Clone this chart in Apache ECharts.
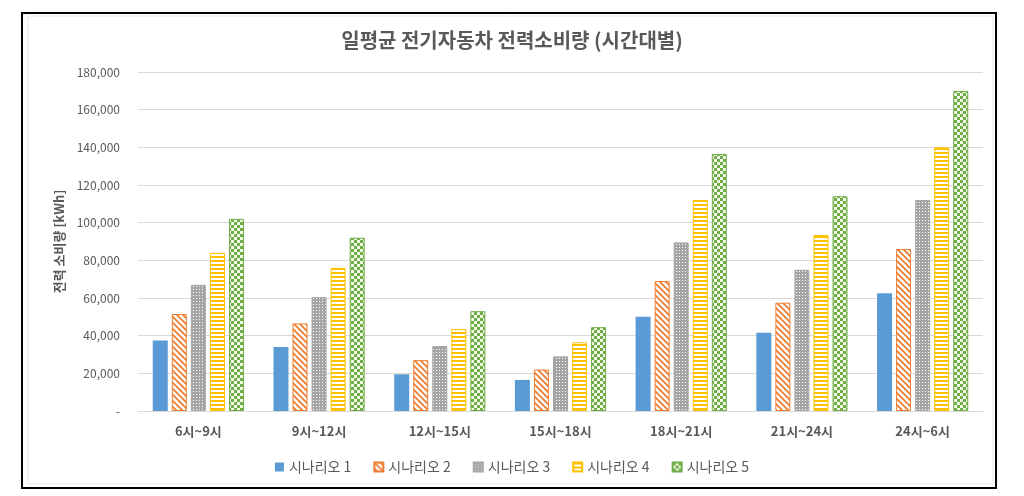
<!DOCTYPE html>
<html style="height: 100%">
<head>
<meta charset="utf-8">
<script src="https://cdn.jsdelivr.net/npm/echarts@6/dist/echarts.min.js"></script>
</head>
<body style="height: 100%; margin: 0; background: #fff">
<div id="container" style="width: 1024px; height: 496px"></div>
<script type="text/javascript">
var categories = ['6시~9시', '9시~12시', '12시~15시', '15시~18시', '18시~21시', '21시~24시', '24시~6시'];
var seriesNames = ['시나리오 1', '시나리오 2', '시나리오 3', '시나리오 4', '시나리오 5'];
var scenario1 = [37500, 34000, 19500, 16500, 50000, 41500, 62500];
var scenario2 = [51500, 46500, 27000, 22000, 69000, 57500, 86000];
var scenario3 = [67000, 60500, 34500, 29000, 89500, 75000, 112000];
var scenario4 = [84000, 76000, 43500, 36500, 112000, 93500, 140000];
var scenario5 = [102000, 92000, 53000, 44500, 136500, 114000, 170000];
var yTicks = [0, 20000, 40000, 60000, 80000, 100000, 120000, 140000, 160000, 180000];

var font = '"Noto Sans CJK KR", "Noto Sans", sans-serif';

function makePattern(w, h, draw) {
	var c = document.createElement('canvas');
	c.width = w;
	c.height = h;
	var ctx = c.getContext('2d');
	draw(ctx);
	return { image: c, repeat: 'repeat' };
}

// orange diagonal stripes
var pat2 = makePattern(6, 6, function(ctx) {
	ctx.fillStyle = '#ffffff';
	ctx.fillRect(0, 0, 6, 6);
	ctx.strokeStyle = '#ED7D31';
	ctx.lineWidth = 1.8;
	ctx.beginPath();
	ctx.moveTo(-1, -1); ctx.lineTo(7, 7);
	ctx.moveTo(-4, 2); ctx.lineTo(4, 10);
	ctx.moveTo(2, -4); ctx.lineTo(10, 4);
	ctx.stroke();
});
// gray dotted
var pat3 = makePattern(3, 3, function(ctx) {
	ctx.fillStyle = '#A5A5A5';
	ctx.fillRect(0, 0, 3, 3);
	ctx.fillStyle = '#ffffff';
	ctx.fillRect(1, 1, 1, 1);
});
// yellow horizontal stripes
var pat4 = makePattern(4, 4, function(ctx) {
	ctx.fillStyle = '#ffffff';
	ctx.fillRect(0, 0, 4, 4);
	ctx.fillStyle = '#FFC000';
	ctx.fillRect(0, 0, 4, 2);
});
// green checkerboard
var pat5 = makePattern(6, 6, function(ctx) {
	ctx.fillStyle = '#F2F9E8';
	ctx.fillRect(0, 0, 6, 6);
	ctx.fillStyle = '#70AD47';
	ctx.fillRect(0, 0, 3, 3);
	ctx.fillRect(3, 3, 3, 3);
});

var fills = ['#5B9BD5', pat2, pat3, pat4, pat5];
var borders = ['#5B9BD5', '#ED7D31', '#A5A5A5', '#FFC000', '#70AD47'];
var values = [scenario1, scenario2, scenario3, scenario4, scenario5];

var dom = document.getElementById('container');
var myChart = echarts.init(dom);

var series = seriesNames.map(function(name, i) {
	return {
		name: name,
		type: 'bar',
		barWidth: 15,
		barGap: '27%',
		itemStyle: {
			color: fills[i],
			borderColor: borders[i],
			borderWidth: i === 0 ? 0 : 1
		},
		data: values[i]
	};
});

var option = {
	backgroundColor: '#ffffff',
	animation: false,
	textStyle: { fontFamily: font },
	title: {
		text: '일평균 전기자동차 전력소비량 (시간대별)',
		left: 'center',
		top: 25,
		textStyle: { fontFamily: font, fontSize: 20, fontWeight: 'bold', color: '#595959' }
	},
	legend: {
		bottom: 17,
		left: 'center',
		icon: 'rect',
		itemWidth: 9,
		itemHeight: 9,
		itemGap: 22,
		textStyle: { fontFamily: font, fontSize: 14, color: '#595959' },
		data: seriesNames
	},
	graphic: [{
		type: 'rect',
		shape: { x: 22, y: 13, width: 974, height: 475 },
		style: { fill: 'none', stroke: '#000000', lineWidth: 2 },
		silent: true
	}, {
		type: 'rect',
		shape: { x: 28, y: 16, width: 965, height: 468 },
		style: { fill: 'none', stroke: '#E8E8E8', lineWidth: 1 },
		silent: true
	}],
	grid: { left: 138, right: 41, top: 72, bottom: 85 },
	xAxis: {
		type: 'category',
		data: categories,
		axisTick: { show: false },
		axisLine: { lineStyle: { color: '#D9D9D9' } },
		axisLabel: { fontFamily: font, fontSize: 13, fontWeight: 'bold', color: '#595959', margin: 14 }
	},
	yAxis: {
		type: 'value',
		min: yTicks[0],
		max: yTicks[yTicks.length - 1],
		interval: yTicks[1] - yTicks[0],
		name: '전력 소비량 [kWh]',
		nameLocation: 'middle',
		nameGap: 68,
		nameTextStyle: { fontFamily: font, fontSize: 13, fontWeight: 'bold', color: '#595959' },
		axisLine: { show: false },
		axisTick: { show: false },
		splitLine: { lineStyle: { color: '#D9D9D9' } },
		axisLabel: {
			fontFamily: font,
			fontSize: 12,
			color: '#595959',
			margin: 18,
			formatter: function(v) {
				return v === 0 ? '-' : v.toLocaleString('en-US');
			}
		}
	},
	series: series
};
myChart.setOption(option, true);
</script>
</body>
</html>
